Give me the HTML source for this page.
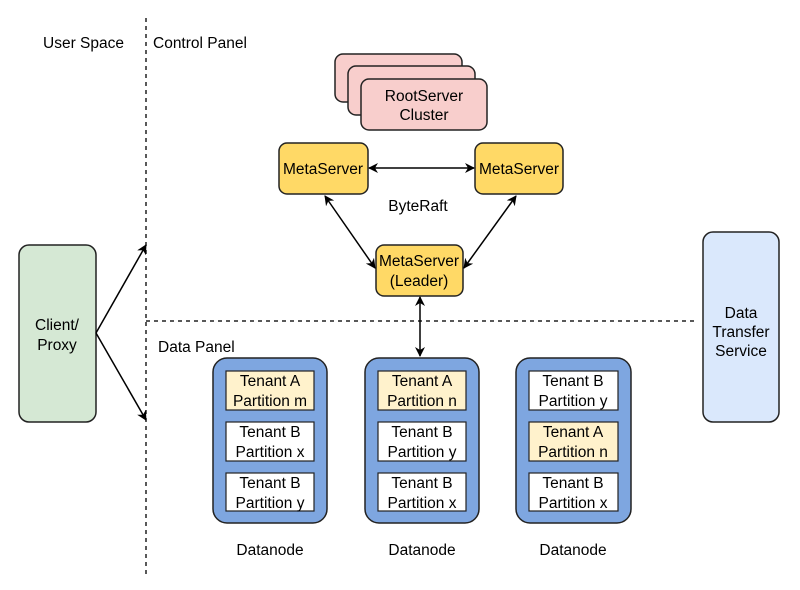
<!DOCTYPE html>
<html><head><meta charset="utf-8"><style>
html,body{margin:0;padding:0;background:#fff;}
svg{display:block;font-family:"Liberation Sans",Arial,sans-serif;}
</style></head><body>
<svg width="800" height="590" viewBox="0 0 800 590" xmlns="http://www.w3.org/2000/svg">
<defs>
<marker id="a" viewBox="0 0 10 10" refX="9" refY="5" markerWidth="10" markerHeight="10" orient="auto-start-reverse" markerUnits="userSpaceOnUse">
<path d="M0,0 L10,5 L0,10 L3,5 Z" fill="#000"/></marker>
</defs>
<rect width="800" height="590" fill="#fff"/>
<g stroke="#222" stroke-width="1.5" stroke-dasharray="4,4" fill="none">
<line x1="146" y1="18" x2="146" y2="576"/>
<line x1="146" y1="321" x2="694" y2="321"/>
</g>
<g font-size="15.5" fill="#000">
<text x="43" y="48">User Space</text>
<text x="153" y="48">Control Panel</text>
<text x="158" y="352">Data Panel</text>
</g>
<g fill="#f8cecc" stroke="#222" stroke-width="1.5">
<rect x="335" y="54" width="127" height="48" rx="8"/>
<rect x="348" y="66" width="127" height="49" rx="8"/>
<rect x="361" y="79" width="126" height="51" rx="8"/>
</g>
<g font-size="15.5" text-anchor="middle">
<text x="424" y="101">RootServer</text>
<text x="424" y="120">Cluster</text>
</g>
<g fill="#ffd966" stroke="#222" stroke-width="1.5">
<rect x="279" y="143" width="89" height="51" rx="8"/>
<rect x="475" y="143" width="88" height="51" rx="8"/>
<rect x="376" y="245" width="87" height="51" rx="8"/>
</g>
<g font-size="15.5" text-anchor="middle">
<text x="323" y="174">MetaServer</text>
<text x="519" y="174">MetaServer</text>
<text x="419" y="266">MetaServer</text>
<text x="419" y="286">(Leader)</text>
<text x="418" y="211">ByteRaft</text>
</g>
<g stroke="#000" stroke-width="1.5" marker-start="url(#a)" marker-end="url(#a)">
<line x1="369" y1="168" x2="474" y2="168"/>
<line x1="325" y1="196" x2="375" y2="268"/>
<line x1="516" y1="196" x2="464" y2="268"/>
<line x1="420" y1="297" x2="420" y2="356"/>
</g>
<rect x="19" y="245" width="77" height="177" rx="10" fill="#d5e8d4" stroke="#222" stroke-width="1.5"/>
<g font-size="15.5" text-anchor="middle">
<text x="57" y="330">Client/</text>
<text x="57" y="350">Proxy</text>
</g>
<g stroke="#000" stroke-width="1.5" marker-end="url(#a)">
<line x1="96" y1="333" x2="146" y2="245"/>
<line x1="96" y1="333" x2="146" y2="420"/>
</g>
<rect x="703" y="232" width="76" height="190" rx="10" fill="#dae8fc" stroke="#222" stroke-width="1.5"/>
<g font-size="15.5" text-anchor="middle">
<text x="741" y="318">Data</text>
<text x="741" y="337">Transfer</text>
<text x="741" y="356">Service</text>
</g>
<g fill="#7ea6e0" stroke="#222" stroke-width="1.5">
<rect x="213" y="358" width="114" height="165" rx="14"/>
<rect x="365" y="358" width="114" height="165" rx="14"/>
<rect x="516" y="358" width="115" height="165" rx="14"/>
</g>
<g stroke="#222" stroke-width="1.2">
<rect x="226" y="371" width="88" height="39" fill="#fff2cc"/>
<rect x="226" y="422" width="88" height="39" fill="#fff"/>
<rect x="226" y="473" width="88" height="38" fill="#fff"/>
<rect x="378" y="371" width="88" height="39" fill="#fff2cc"/>
<rect x="378" y="422" width="88" height="39" fill="#fff"/>
<rect x="378" y="473" width="88" height="38" fill="#fff"/>
<rect x="529" y="371" width="89" height="39" fill="#fff"/>
<rect x="529" y="422" width="89" height="39" fill="#fff2cc"/>
<rect x="529" y="473" width="89" height="38" fill="#fff"/>
</g>
<g font-size="15.5" text-anchor="middle">
<text x="270" y="386">Tenant A</text><text x="270" y="406">Partition m</text>
<text x="270" y="437">Tenant B</text><text x="270" y="457">Partition x</text>
<text x="270" y="488">Tenant B</text><text x="270" y="508">Partition y</text>
<text x="422" y="386">Tenant A</text><text x="422" y="406">Partition n</text>
<text x="422" y="437">Tenant B</text><text x="422" y="457">Partition y</text>
<text x="422" y="488">Tenant B</text><text x="422" y="508">Partition x</text>
<text x="573" y="386">Tenant B</text><text x="573" y="406">Partition y</text>
<text x="573" y="437">Tenant A</text><text x="573" y="457">Partition n</text>
<text x="573" y="488">Tenant B</text><text x="573" y="508">Partition x</text>
<text x="270" y="555">Datanode</text>
<text x="422" y="555">Datanode</text>
<text x="573" y="555">Datanode</text>
</g>
</svg>
</body></html>
